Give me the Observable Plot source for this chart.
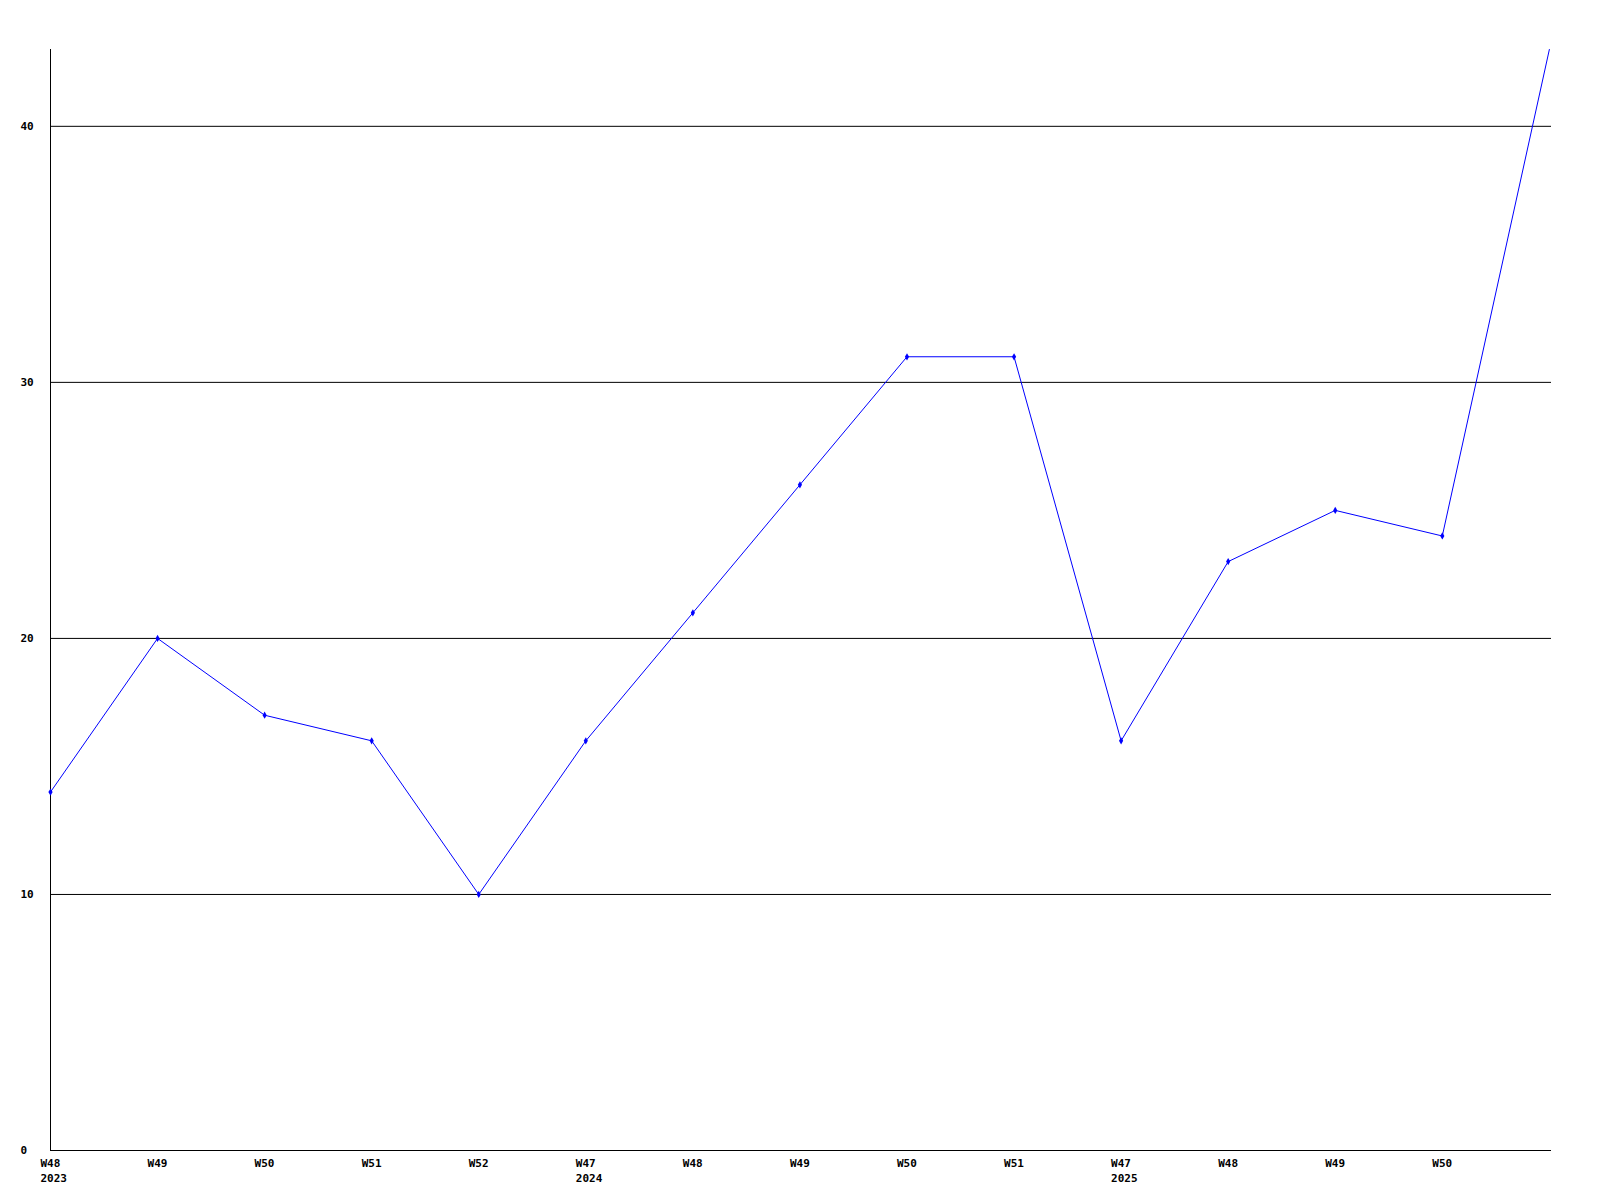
<!DOCTYPE html>
<html>
<head>
<meta charset="utf-8">
<script src="https://cdn.jsdelivr.net/npm/d3@7"></script>
<script src="https://cdn.jsdelivr.net/npm/@observablehq/plot@0.6"></script>
<style>
html, body { margin: 0; padding: 0; background: #fff; }
#chart svg { display: block; }
</style>
</head>
<body>
<div id="chart"></div>
<script>
const weekLabels = ["W48\n2023", "W49", "W50", "W51", "W52", "W47\n2024", "W48", "W49", "W50", "W51", "W47\n2025", "W48", "W49", "W50", ""];
const values = [14, 20, 17, 16, 10, 16, 21, 26, 31, 31, 16, 23, 25, 24, 43];
const yTicks = [0, 10, 20, 30, 40];
const gridValues = [10, 20, 30, 40];

const data = values.map((v, i) => ({i, v, label: weekLabels[i]}));
const labelData = data.filter(d => d.label !== "");
const markerData = data.slice(0, data.length - 1);
const font = "'DejaVu Sans Mono', monospace";

const chart = Plot.plot({
  width: 1600,
  height: 1200,
  marginLeft: 50,
  marginRight: 49,
  marginTop: 49,
  marginBottom: 50,
  style: {fontFamily: font, fontSize: "11px", fontWeight: "bold", background: "#fff", overflow: "visible"},
  x: {domain: [0, 14.02], axis: null},
  y: {domain: [0, 43], axis: null},
  marks: [
    Plot.ruleY(gridValues, {stroke: "#000", strokeWidth: 1}),
    Plot.ruleY([0], {stroke: "#000", strokeWidth: 1}),
    Plot.ruleX([0], {stroke: "#000", strokeWidth: 1}),
    Plot.line(data, {x: "i", y: "v", stroke: "#0000ff", strokeWidth: 1}),
    Plot.dot(markerData, {x: "i", y: "v", symbol: "diamond", r: 2.2, fill: "#0000ff", stroke: "none"}),
    Plot.text(labelData, {x: "i", y: () => 0, text: "label", textAnchor: "start", dx: -10, dy: 6, lineAnchor: "top", lineHeight: 1.36, fill: "#000", fontFamily: font, fontSize: 11, fontWeight: "bold"}),
    Plot.text(yTicks, {x: () => 0, y: d => d, text: d => String(d), textAnchor: "start", dx: -30, fill: "#000", fontFamily: font, fontSize: 11, fontWeight: "bold"})
  ]
});
document.getElementById("chart").appendChild(chart);
</script>
</body>
</html>
